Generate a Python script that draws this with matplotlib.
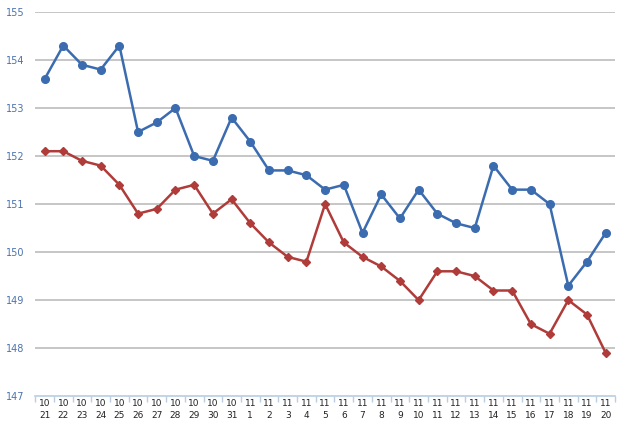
import matplotlib.pyplot as plt
import numpy as np

months = ["10"] * 11 + ["11"] * 20
days = [str(d) for d in range(21, 32)] + [str(d) for d in range(1, 21)]

blue = [153.6, 154.3, 153.9, 153.8, 154.3, 152.5, 152.7, 153.0, 152.0, 151.9,
        152.8, 152.3, 151.7, 151.7, 151.6, 151.3, 151.4, 150.4, 151.2, 150.7,
        151.3, 150.8, 150.6, 150.5, 151.8, 151.3, 151.3, 151.0, 149.3, 149.8,
        150.4]
red = [152.1, 152.1, 151.9, 151.8, 151.4, 150.8, 150.9, 151.3, 151.4, 150.8,
       151.1, 150.6, 150.2, 149.9, 149.8, 151.0, 150.2, 149.9, 149.7, 149.4,
       149.0, 149.6, 149.6, 149.5, 149.2, 149.2, 148.5, 148.3, 149.0, 148.7,
       147.9]

x = np.arange(len(days))

fig = plt.figure(figsize=(6.4, 4.26), dpi=100)
ax = fig.add_axes([0.055, 0.07, 0.906, 0.902])

# grid
for v in range(148, 156):
    ax.axhline(v, color="#c6c6c6", lw=1.4, zorder=0)

ax.plot(x, blue, color="#3b6cb0", lw=1.8, marker="o", ms=5.5, zorder=3)
ax.plot(x, red, color="#b03c3a", lw=1.8, marker="D", ms=4, zorder=3)

ax.set_xlim(-0.5, len(x) - 0.5)
ax.set_ylim(147, 155)

for s in ["top", "right", "left"]:
    ax.spines[s].set_visible(False)
ax.spines["bottom"].set_color("#b9cde3")
ax.spines["bottom"].set_linewidth(1.2)

ax.set_yticks(range(147, 156))
ax.tick_params(axis="y", length=0, labelsize=7, labelcolor="#4a72b0", pad=8)

ax.set_xticks(x)
ax.set_xticklabels([m + "\n" + d for m, d in zip(months, days)], fontsize=6.5,
                   color="#222222", linespacing=1.45)
ax.tick_params(axis="x", length=0, pad=2)
ax.set_xticks(np.arange(-0.5, len(x)), minor=True)
ax.tick_params(axis="x", which="minor", length=4, color="#b9cde3", width=1)

fig.savefig("out.png", dpi=100)
